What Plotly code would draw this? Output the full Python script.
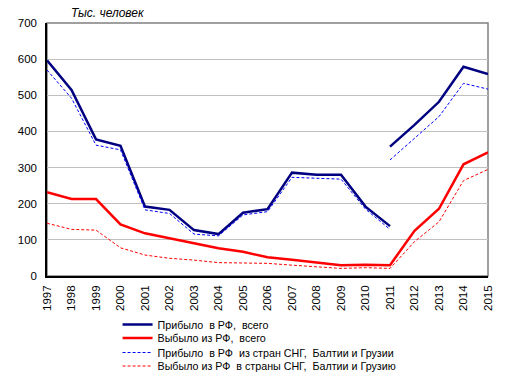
import plotly.graph_objects as go

years = list(range(1997, 2016))
years_old = list(range(1997, 2012))
years_new = list(range(2011, 2016))

arrived_total_old = [597, 515, 378, 360, 192, 183, 127, 116, 175, 185, 286, 280, 280, 192, 138]
arrived_total_new = [358, 418, 482, 579, 559]
departed_total = [232, 213, 213, 143, 118, 104, 90, 77, 67, 52, 45, 38, 30, 31, 30, 125, 186, 309, 342]
arrived_cis_old = [570, 492, 362, 349, 183, 173, 116, 111, 169, 178, 273, 270, 268, 185, 129]
arrived_cis_new = [321, 381, 441, 533, 517]
departed_cis = [146, 129, 127, 78, 58, 49, 44, 37, 36, 35, 30, 26, 21, 23, 21, 95, 150, 264, 295]

names = [
    "Прибыло  в РФ,  всего",
    "Выбыло из РФ,  всего",
    "Прибыло  в РФ  из стран СНГ,  Балтии и Грузии",
    "Выбыло из РФ  в страны СНГ,  Балтии и Грузию",
]

NAVY = "#000080"
RED = "#ff0000"
BLUE = "#0000ff"
DASH = "3px,2px"

fig = go.Figure()
fig.add_trace(go.Scatter(x=years_old, y=arrived_total_old, mode="lines", name=names[0],
                         line=dict(color=NAVY, width=2.5), legend="legend"))
fig.add_trace(go.Scatter(x=years, y=departed_total, mode="lines", name=names[1],
                         line=dict(color=RED, width=2.5), legend="legend2"))
fig.add_trace(go.Scatter(x=years_old, y=arrived_cis_old, mode="lines", name=names[2],
                         line=dict(color=BLUE, width=1, dash=DASH), legend="legend3"))
fig.add_trace(go.Scatter(x=years, y=departed_cis, mode="lines", name=names[3],
                         line=dict(color=RED, width=1, dash=DASH), legend="legend4"))
fig.add_trace(go.Scatter(x=years_new, y=arrived_total_new, mode="lines", showlegend=False,
                         line=dict(color=NAVY, width=2.5)))
fig.add_trace(go.Scatter(x=years_new, y=arrived_cis_new, mode="lines", showlegend=False,
                         line=dict(color=BLUE, width=1, dash=DASH)))

plot_bottom, plot_h = 276, 253
row_centers = [324.5, 338, 352.5, 366]


def leg(yc):
    return dict(x=0.160, y=(plot_bottom - yc) / plot_h, xanchor="left", yanchor="middle",
                font=dict(size=10.7), bgcolor="rgba(0,0,0,0)", borderwidth=0)


fig.update_layout(
    width=512, height=376,
    margin=dict(l=47, r=24, t=23, b=100, autoexpand=False),
    paper_bgcolor="white", plot_bgcolor="white",
    font=dict(family="Liberation Sans, Arial", size=11.5, color="black"),
    xaxis=dict(range=[1997, 2015], tickmode="array", tickvals=years,
               ticktext=[str(y) for y in years], tickangle=-90, automargin=False,
               showgrid=False, showline=True, linecolor="black", linewidth=1.5,
               ticks="", zeroline=False, ticklabelstandoff=3),
    yaxis=dict(range=[0, 700], dtick=100, showgrid=True, gridcolor="#c0c0c0", gridwidth=1,
               showline=True, linecolor="black", linewidth=1.5, ticks="", automargin=False,
               ticklabelstandoff=6, zeroline=False),
    legend=leg(row_centers[0]),
    legend2=leg(row_centers[1]),
    legend3=leg(row_centers[2]),
    legend4=leg(row_centers[3]),
    shapes=[dict(type="rect", xref="x domain", yref="y domain", x0=0, x1=1, y0=0, y1=1,
                 line=dict(color="#808080", width=1.5), layer="below")],
    annotations=[dict(text="<i>Тыс. человек</i>", xref="paper", yref="paper",
                      x=0.05, y=1.0, xanchor="left", yanchor="bottom", yshift=1,
                      showarrow=False, font=dict(size=12))],
)

fig.write_html("out.html", config={"displayModeBar": False},
               post_script="document.body.style.margin='0';")
